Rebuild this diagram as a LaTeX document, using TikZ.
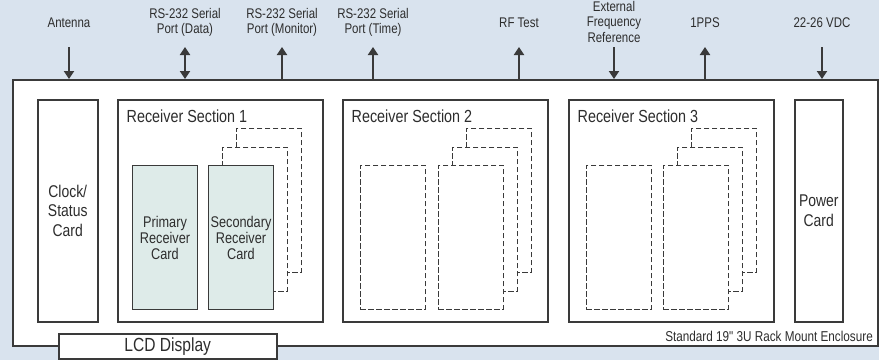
\documentclass[tikz,border=0pt]{standalone}
\usepackage{fontspec}
\setmainfont{Liberation Sans}[FakeStretch=0.82]
\usetikzlibrary{arrows.meta}
\definecolor{bgblue}{RGB}{217,227,238}
\definecolor{cardgreen}{RGB}{222,235,233}
\definecolor{linegray}{RGB}{58,58,58}
\definecolor{textgray}{RGB}{45,45,45}

\begin{document}
\begin{tikzpicture}[
    x=1pt, y=-1pt,
    >={Triangle[width=10pt,length=8pt]},
    box/.style={draw=linegray, line width=1.5pt, fill=white, inner sep=0pt,
        anchor=north west, text=textgray, align=center},
    card/.style={draw=linegray, line width=0.8pt, fill=white,
        dash pattern=on 5.5pt off 2.5pt, inner sep=0pt, anchor=north west,
        minimum width=65pt, minimum height=144pt},
    realcard/.style={card, solid, fill=cardgreen, line width=1pt,
        align=center, text=textgray, font={\fontsize{15.5}{16}\selectfont}},
    sig/.style={draw=linegray, line width=2.6pt},
    toplabel/.style={align=center, text=textgray,
        font={\fontsize{14}{15.5}\selectfont}},
    title/.style={text=textgray, font={\fontsize{17.5}{18}\selectfont}},
    ]

    % background
    \useasboundingbox[fill=bgblue] (0,0) rectangle (879,360);

    % enclosure
    \node[box, minimum width=865pt, minimum height=266pt] (encl) at (12,79) {};
    \node[text=textgray, anchor=base east, inner sep=0pt,
        font={\fontsize{14.3}{15}\selectfont\addfontfeature{Ligatures=TeXOff}}]
        (encl-label) at (873,341) {Standard 19" 3U Rack Mount Enclosure};

    % LCD display
    \node[box, minimum width=218pt, minimum height=25pt,
        font={\fontsize{19}{20}\selectfont}] (lcd) at (58,333) {LCD Display};

    % clock and power cards
    \node[box, minimum width=60pt, minimum height=222pt,
        font={\fontsize{17}{19.5}\selectfont}] (clock) at (37,99) {Clock/\\Status\\Card};
    \node[box, minimum width=48pt, minimum height=222pt,
        font={\fontsize{17}{19.5}\selectfont}] (power) at (794,99) {Power\\Card};

    % receiver sections
    \foreach \n/\sx/\px/\qx in {1/117/132/208, 2/342/360/438, 3/568/586/663} {
        \node[box, minimum width=205pt, minimum height=222pt] (sec\n) at (\sx,99) {};
        \node[title, anchor=base west, inner sep=0pt] (sec\n-title) at (\sx+9.5,122)
            {Receiver Section \n};
        % spare cards
        \node[card] (sec\n-back2) at (\qx+28,128) {};
        \node[card] (sec\n-back1) at (\qx+14,147) {};
        \ifnum\n=1
            \node[realcard] (sec\n-prim) at (\px,165) {Primary\\Receiver\\Card};
            \node[realcard] (sec\n-secd) at (\qx,165) {Secondary\\Receiver\\Card};
        \else
            \node[card] (sec\n-prim) at (\px,165) {};
            \node[card] (sec\n-secd) at (\qx,165) {};
        \fi
    }

    % port names
    \node[toplabel] (antenna) at (69,22.5) {Antenna};
    \node[toplabel] (data) at (185,22.5) {RS-232 Serial\\Port (Data)};
    \node[toplabel] (monitor) at (282,22.5) {RS-232 Serial\\Port (Monitor)};
    \node[toplabel] (time) at (373,22.5) {RS-232 Serial\\Port (Time)};
    \node[toplabel] (rftest) at (519,22.5) {RF Test};
    \node[toplabel] (extref) at (614,21.5) {External\\Frequency\\Reference};
    \node[toplabel] (pps) at (705,22.5) {1PPS};
    \node[toplabel] (vdc) at (822,22.5) {22-26 VDC};

    % signals
    \foreach \c/\x in {antenna/69, data/185, monitor/282, time/373,
                       rftest/519, extref/614, pps/705, vdc/822}
        \coordinate (\c-port) at (\x,47);
    \draw[sig,->] (antenna-port) -- (antenna-port |- encl.north);
    \draw[sig,<->] (data-port) -- (data-port |- encl.north);
    \draw[sig,<-] (monitor-port) -- (monitor-port |- encl.north);
    \draw[sig,<-] (time-port) -- (time-port |- encl.north);
    \draw[sig,<-] (rftest-port) -- (rftest-port |- encl.north);
    \draw[sig,->] (extref-port) -- (extref-port |- encl.north);
    \draw[sig,<-] (pps-port) -- (pps-port |- encl.north);
    \draw[sig,->] (vdc-port) -- (vdc-port |- encl.north);

\end{tikzpicture}
\end{document}
